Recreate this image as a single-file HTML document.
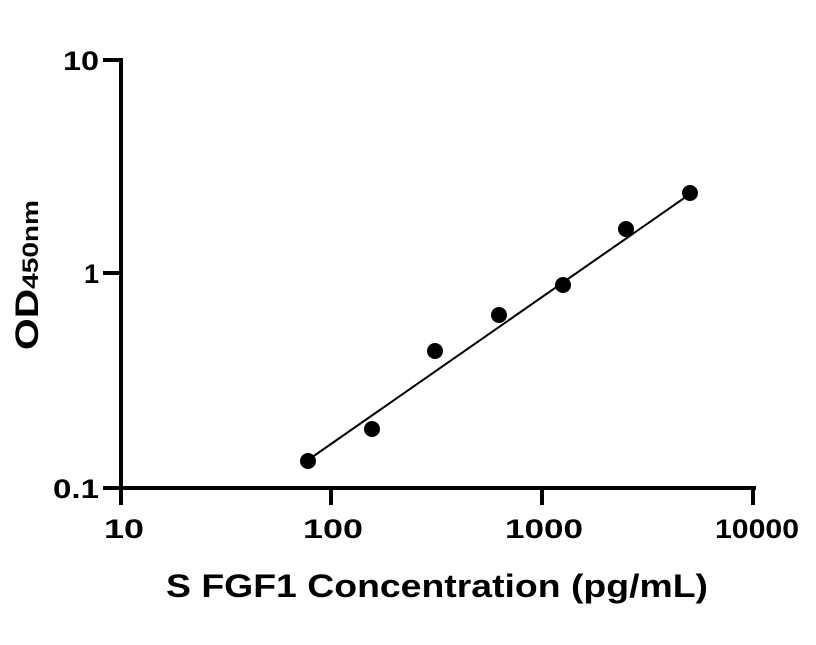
<!DOCTYPE html>
<html><head><style>body{margin:0;background:#fff}</style></head><body>
<svg width="816" height="640" xmlns="http://www.w3.org/2000/svg" font-family="Liberation Sans, sans-serif" font-weight="bold">
<rect width="816" height="640" fill="#fff"/>
<g stroke="#000" stroke-width="4" fill="none">
<path d="M121,58 V505"/>
<path d="M119,488 H756"/>
<path d="M103,60 H121 M103,273 H121 M103,488 H121"/>
<path d="M331,488 V505 M542,488 V505 M753,488 V505"/>
</g>
<line x1="308" y1="460" x2="690" y2="194" stroke="#000" stroke-width="2"/>
<g fill="#000">
<circle cx="308" cy="461" r="8"/><circle cx="372" cy="429" r="8"/><circle cx="435" cy="351" r="8"/>
<circle cx="499" cy="315" r="8"/><circle cx="563" cy="285" r="8"/><circle cx="626" cy="229" r="8"/><circle cx="690" cy="193" r="8"/>
</g>
<g font-size="27" text-anchor="end">
<text x="99" y="70" textLength="36" lengthAdjust="spacingAndGlyphs">10</text>
<text x="99" y="283">1</text>
<text x="99" y="498" textLength="46" lengthAdjust="spacingAndGlyphs">0.1</text>
</g>
<g font-size="27" text-anchor="middle">
<text x="124" y="538" textLength="40" lengthAdjust="spacingAndGlyphs">10</text>
<text x="333" y="538" textLength="60" lengthAdjust="spacingAndGlyphs">100</text>
<text x="544" y="538" textLength="78" lengthAdjust="spacingAndGlyphs">1000</text>
<text x="757" y="538" textLength="84" lengthAdjust="spacingAndGlyphs">10000</text>
</g>
<text x="166" y="597" font-size="32" textLength="542" lengthAdjust="spacingAndGlyphs">S FGF1 Concentration (pg/mL)</text>
<text transform="translate(38,350) rotate(-90)" font-size="32" textLength="150" lengthAdjust="spacingAndGlyphs">OD<tspan font-size="22">450nm</tspan></text>
</svg>
</body></html>
